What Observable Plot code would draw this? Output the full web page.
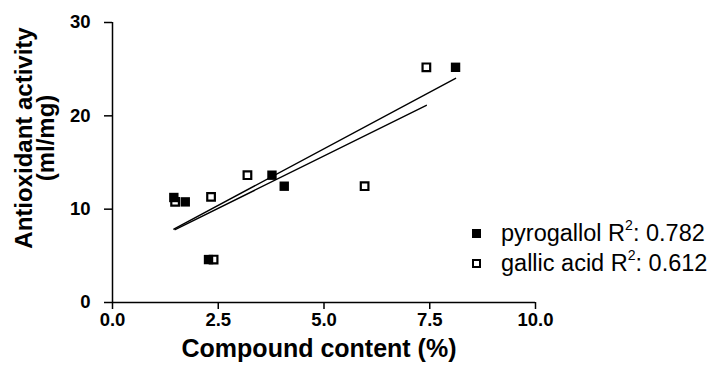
<!DOCTYPE html>
<html>
<head>
<meta charset="utf-8">
<script src="https://cdn.jsdelivr.net/npm/d3@7"></script>
<script src="https://cdn.jsdelivr.net/npm/@observablehq/plot@0.6"></script>
<style>
  html, body { margin: 0; padding: 0; background: #fff; }
  #wrap { position: relative; width: 713px; height: 370px; font-family: "Liberation Sans", Arial, sans-serif; overflow: hidden; }
  #legend { position: absolute; left: 470px; top: 218px; font-size: 23.5px; color: #000; }
  .row { position: relative; height: 30px; line-height: 30px; padding-left: 31px; white-space: nowrap; }
  .sw { position: absolute; left: 2px; top: 11px; width: 9px; height: 9px; box-sizing: border-box; }
  .sw.filled { background: #000; }
  .sw.open { border: 2px solid #000; background: #fff; }
  sup { font-size: 0.6em; vertical-align: 0.75em; line-height: 0; }
  #ytitle { position: absolute; left: 35px; top: 138px; transform: translate(-50%, -50%) rotate(-90deg);
            white-space: nowrap; text-align: center; font-weight: bold; font-size: 24px; line-height: 22px; color: #000; }
</style>
</head>
<body>
<div id="wrap"></div>
<script>
// Data
const pyroX = [1.45, 1.72, 2.27, 3.77, 4.06, 8.11];
const pyroY = [11.25, 10.78, 4.6, 13.64, 12.46, 25.2];
const gallicX = [1.48, 2.33, 2.39, 3.19, 5.96, 7.42];
const gallicY = [10.78, 11.32, 4.6, 13.64, 12.46, 25.2];
const seriesNames = ["pyrogallol", "gallic acid"];
const r2Labels = ["0.782", "0.612"];
const xTicks = [0, 2.5, 5, 7.5, 10];
const yTicks = [0, 10, 20, 30];
const xTitle = "Compound content (%)";
const yTitleLines = ["Antioxidant activity", "(ml/mg)"];

const pyro = pyroX.map((x, i) => ({x, y: pyroY[i]}));
const gallic = gallicX.map((x, i) => ({x, y: gallicY[i]}));

const font = "'Liberation Sans', Arial, sans-serif";

const chart = Plot.plot({
  width: 713,
  height: 370,
  marginLeft: 112,
  marginRight: 178,
  marginTop: 22,
  marginBottom: 68,
  style: {fontFamily: font, background: "#fff", color: "#000"},
  x: {domain: [0, 10]},
  y: {domain: [0, 30]},
  marks: [
    Plot.axisX({ticks: xTicks, tickFormat: d3.format(".1f"), tickSize: 7, tickPadding: 3, fontSize: 18.5, fontWeight: "bold", label: null, strokeWidth: 1.5}),
    Plot.axisY({ticks: yTicks, tickSize: 8, tickPadding: 14, fontSize: 18.5, fontWeight: "bold", label: null, strokeWidth: 1.5}),
    Plot.ruleX([0], {stroke: "#000", strokeWidth: 1.5}),
    Plot.ruleY([0], {stroke: "#000", strokeWidth: 1.5}),
    Plot.linearRegressionY(pyro, {x: "x", y: "y", stroke: "#000", strokeWidth: 1.4, ci: 0}),
    Plot.linearRegressionY(gallic, {x: "x", y: "y", stroke: "#000", strokeWidth: 1.4, ci: 0}),
    Plot.dot(gallic, {x: "x", y: "y", symbol: "square", r: 4.3, stroke: "#000", strokeWidth: 2.2, fill: "#fff"}),
    Plot.dot(pyro, {x: "x", y: "y", symbol: "square", r: 5.3, fill: "#000", stroke: "none"}),
    Plot.text([xTitle], {frameAnchor: "bottom", dy: 54, dx: -5, fontSize: 25, fontWeight: "bold", fill: "#000"})
  ]
});

const wrap = document.getElementById("wrap");
wrap.appendChild(chart);

const ytitle = document.createElement("div");
ytitle.id = "ytitle";
ytitle.innerHTML = yTitleLines.join("<br>");
wrap.appendChild(ytitle);

const legend = document.createElement("div");
legend.id = "legend";
seriesNames.forEach((name, i) => {
  const row = document.createElement("div");
  row.className = "row";
  const sw = document.createElement("span");
  sw.className = "sw " + (i === 0 ? "filled" : "open");
  row.appendChild(sw);
  const label = document.createElement("span");
  label.innerHTML = name + " R<sup>2</sup>: " + r2Labels[i];
  row.appendChild(label);
  legend.appendChild(row);
});
wrap.appendChild(legend);
</script>
</body>
</html>
